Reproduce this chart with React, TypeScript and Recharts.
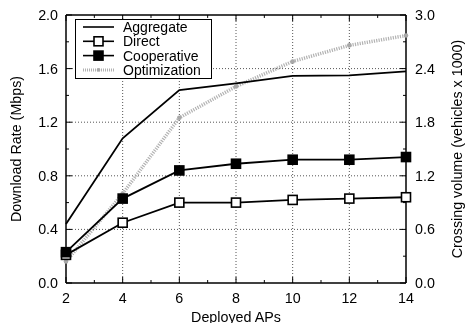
import {
  ComposedChart,
  Line,
  XAxis,
  YAxis,
  ReferenceLine,
  Legend,
} from 'recharts'

const aps = [2, 4, 6, 8, 10, 12, 14]
const aggregate = [0.44, 1.08, 1.44, 1.49, 1.545, 1.55, 1.58]
const direct = [0.21, 0.45, 0.6, 0.6, 0.62, 0.63, 0.64]
const cooperative = [0.23, 0.63, 0.84, 0.89, 0.92, 0.92, 0.94]
// right axis (vehicles x 1000)
const optimization = [0.24, 1.0, 1.85, 2.2, 2.48, 2.66, 2.77]

const xTicks = [2, 3, 4, 5, 6, 7, 8, 9, 10, 11, 12, 13, 14]
const leftTicks = [0, 0.2, 0.4, 0.6, 0.8, 1.0, 1.2, 1.4, 1.6, 1.8, 2.0]
const rightTicks = [0, 0.3, 0.6, 0.9, 1.2, 1.5, 1.8, 2.1, 2.4, 2.7, 3.0]
const gridX = [4, 6, 8, 10, 12]
const gridY = [0.4, 0.8, 1.2, 1.6]
const LEFT_MAX = 2

const seriesNames = ['Aggregate', 'Direct', 'Cooperative', 'Optimization']

const data = aps.map((ap, i) => ({
  ap,
  Aggregate: aggregate[i],
  Direct: direct[i],
  Cooperative: cooperative[i],
  Optimization: optimization[i],
}))

const FONT = '"Liberation Sans", Arial, Helvetica, sans-serif'
const FS = 14.3
const GRAY = '#b2b2b2'

const BottomTick = (props: any) => {
  const { x, y, payload } = props
  const major = payload.value % 2 === 0
  return (
    <g>
      <line x1={x} x2={x} y1={y} y2={y - (major ? 6 : 3)} stroke="#000" />
      {major && (
        <text x={x} y={y + 19.5} textAnchor="middle" fontSize={FS} fontFamily={FONT} fill="#000">
          {payload.value}
        </text>
      )}
    </g>
  )
}

const LeftTick = (props: any) => {
  const { x, y, payload } = props
  const major = Math.round(payload.value / 0.2) % 2 === 0
  return (
    <g>
      <line x1={x} x2={x + (major ? 6 : 3)} y1={y} y2={y} stroke="#000" />
      {major && (
        <text x={x - 8} y={y + 5} textAnchor="end" fontSize={FS} fontFamily={FONT} fill="#000">
          {payload.value.toFixed(1)}
        </text>
      )}
    </g>
  )
}

const RightTick = (props: any) => {
  const { x, y, payload } = props
  const major = Math.round(payload.value / 0.3) % 2 === 0
  return (
    <g>
      <line x1={x} x2={x - (major ? 6 : 3)} y1={y} y2={y} stroke="#000" />
      {major && (
        <text x={x + 9} y={y + 5} textAnchor="start" fontSize={FS} fontFamily={FONT} fill="#000">
          {payload.value.toFixed(1)}
        </text>
      )}
    </g>
  )
}

const SquareDot = (filled: boolean) => (props: any) => {
  const { cx, cy, index } = props
  return (
    <rect
      key={index}
      x={cx - 4.5}
      y={cy - 4.5}
      width={9}
      height={9}
      fill={filled ? '#000' : '#fff'}
      stroke="#000"
      strokeWidth={1.6}
    />
  )
}

const GrayDot = (props: any) => {
  const { cx, cy, index } = props
  return <circle key={index} cx={cx} cy={cy} r={2.3} fill="#a8a8a8" />
}

const LegendBox = () => (
  <svg width={137} height={60} style={{ display: 'block', background: '#fff' }}>
    <rect x={0.5} y={0.5} width={136} height={59} fill="#fff" stroke="#000" />
    {seriesNames.map((name, i) => {
      const cy = 8 + i * 14.3
      return (
        <g key={name}>
          {name === 'Optimization' ? (
            <>
              <line x1={8} x2={39} y1={cy} y2={cy} stroke={GRAY} strokeWidth={3} strokeDasharray="1 1" />
              <circle cx={23.5} cy={cy} r={1.8} fill="#a8a8a8" />
            </>
          ) : (
            <line x1={8} x2={39} y1={cy} y2={cy} stroke="#000" strokeWidth={1.6} />
          )}
          {name === 'Direct' && (
            <rect x={19} y={cy - 4.5} width={9} height={9} fill="#fff" stroke="#000" strokeWidth={1.6} />
          )}
          {name === 'Cooperative' && (
            <rect x={19} y={cy - 4.5} width={9} height={9} fill="#000" stroke="#000" strokeWidth={1.6} />
          )}
          <text x={48} y={cy + 5} fontSize={14} fontFamily={FONT} fill="#000">
            {name}
          </text>
        </g>
      )
    })}
  </svg>
)

const LeftTitle = (props: any) => {
  const { viewBox } = props
  const cy = viewBox.y + viewBox.height / 2
  return (
    <text x={16} y={cy} transform={`rotate(-90 16 ${cy})`} textAnchor="middle" dominantBaseline="central"
      fontSize={FS} fontFamily={FONT} fill="#000">
      Download Rate (Mbps)
    </text>
  )
}

const RightTitle = (props: any) => {
  const { viewBox } = props
  const cy = viewBox.y + viewBox.height / 2
  return (
    <text x={457} y={cy} transform={`rotate(-90 457 ${cy})`} textAnchor="middle" dominantBaseline="central"
      fontSize={FS} fontFamily={FONT} fill="#000">
      Crossing volume (vehicles x 1000)
    </text>
  )
}

const BottomTitle = (props: any) => {
  const { viewBox } = props
  return (
    <text x={viewBox.x + viewBox.width / 2} y={321.5} textAnchor="middle" fontSize={FS} fontFamily={FONT} fill="#000">
      Deployed APs
    </text>
  )
}

export default function App() {
  return (
    <div style={{ position: 'fixed', left: 0, top: 0 }}>
      <ComposedChart width={465} height={323} data={data} margin={{ top: 15, right: 0, bottom: 0, left: 0 }}>
        <XAxis
          dataKey="ap"
          type="number"
          domain={[2, 14]}
          ticks={xTicks}
          interval={0}
          height={40}
          tickSize={0}
          tickMargin={0}
          tick={BottomTick}
          axisLine={{ stroke: '#000', strokeWidth: 1.5 }}
          label={BottomTitle}
        />
        <YAxis
          yAxisId="left"
          type="number"
          domain={[0, 2]}
          ticks={leftTicks}
          interval={0}
          width={66}
          tickSize={0}
          tickMargin={0}
          tick={LeftTick}
          axisLine={{ stroke: '#000', strokeWidth: 1.5 }}
          label={LeftTitle}
        />
        <YAxis
          yAxisId="right"
          orientation="right"
          type="number"
          domain={[0, 3]}
          ticks={rightTicks}
          interval={0}
          width={59}
          tickSize={0}
          tickMargin={0}
          tick={RightTick}
          axisLine={{ stroke: '#000', strokeWidth: 1.5 }}
          label={RightTitle}
        />
        {gridX.map((v) => (
          <ReferenceLine key={'gx' + v} x={v} yAxisId="left" stroke="#555" strokeDasharray="1 2" />
        ))}
        {gridY.map((v) => (
          <ReferenceLine key={'gy' + v} y={v} yAxisId="left" stroke="#555" strokeDasharray="1 2" />
        ))}
        {/* top frame and its ticks */}
        <ReferenceLine y={LEFT_MAX} yAxisId="left" stroke="#000" strokeWidth={1.5} />
        {xTicks.map((v) => (
          <ReferenceLine
            key={'tt' + v}
            yAxisId="left"
            segment={[
              { x: v, y: LEFT_MAX },
              { x: v, y: LEFT_MAX - (v % 2 === 0 ? 0.045 : 0.022) },
            ]}
            stroke="#000"
          />
        ))}
        <Line
          yAxisId="right"
          dataKey="Optimization"
          type="linear"
          stroke={GRAY}
          strokeWidth={3.5}
          strokeDasharray="1.2 1.2"
          dot={GrayDot}
          isAnimationActive={false}
        />
        <Line
          yAxisId="left"
          dataKey="Aggregate"
          type="linear"
          stroke="#000"
          strokeWidth={1.8}
          dot={false}
          isAnimationActive={false}
        />
        <Line
          yAxisId="left"
          dataKey="Direct"
          type="linear"
          stroke="#000"
          strokeWidth={1.8}
          dot={SquareDot(false)}
          isAnimationActive={false}
        />
        <Line
          yAxisId="left"
          dataKey="Cooperative"
          type="linear"
          stroke="#000"
          strokeWidth={1.8}
          dot={SquareDot(true)}
          isAnimationActive={false}
        />
        <Legend
          layout="vertical"
          align="center"
          verticalAlign="middle"
          content={LegendBox}
          wrapperStyle={{ position: 'absolute', left: 75, top: 19, width: 137, height: 60 }}
        />
      </ComposedChart>
    </div>
  )
}
